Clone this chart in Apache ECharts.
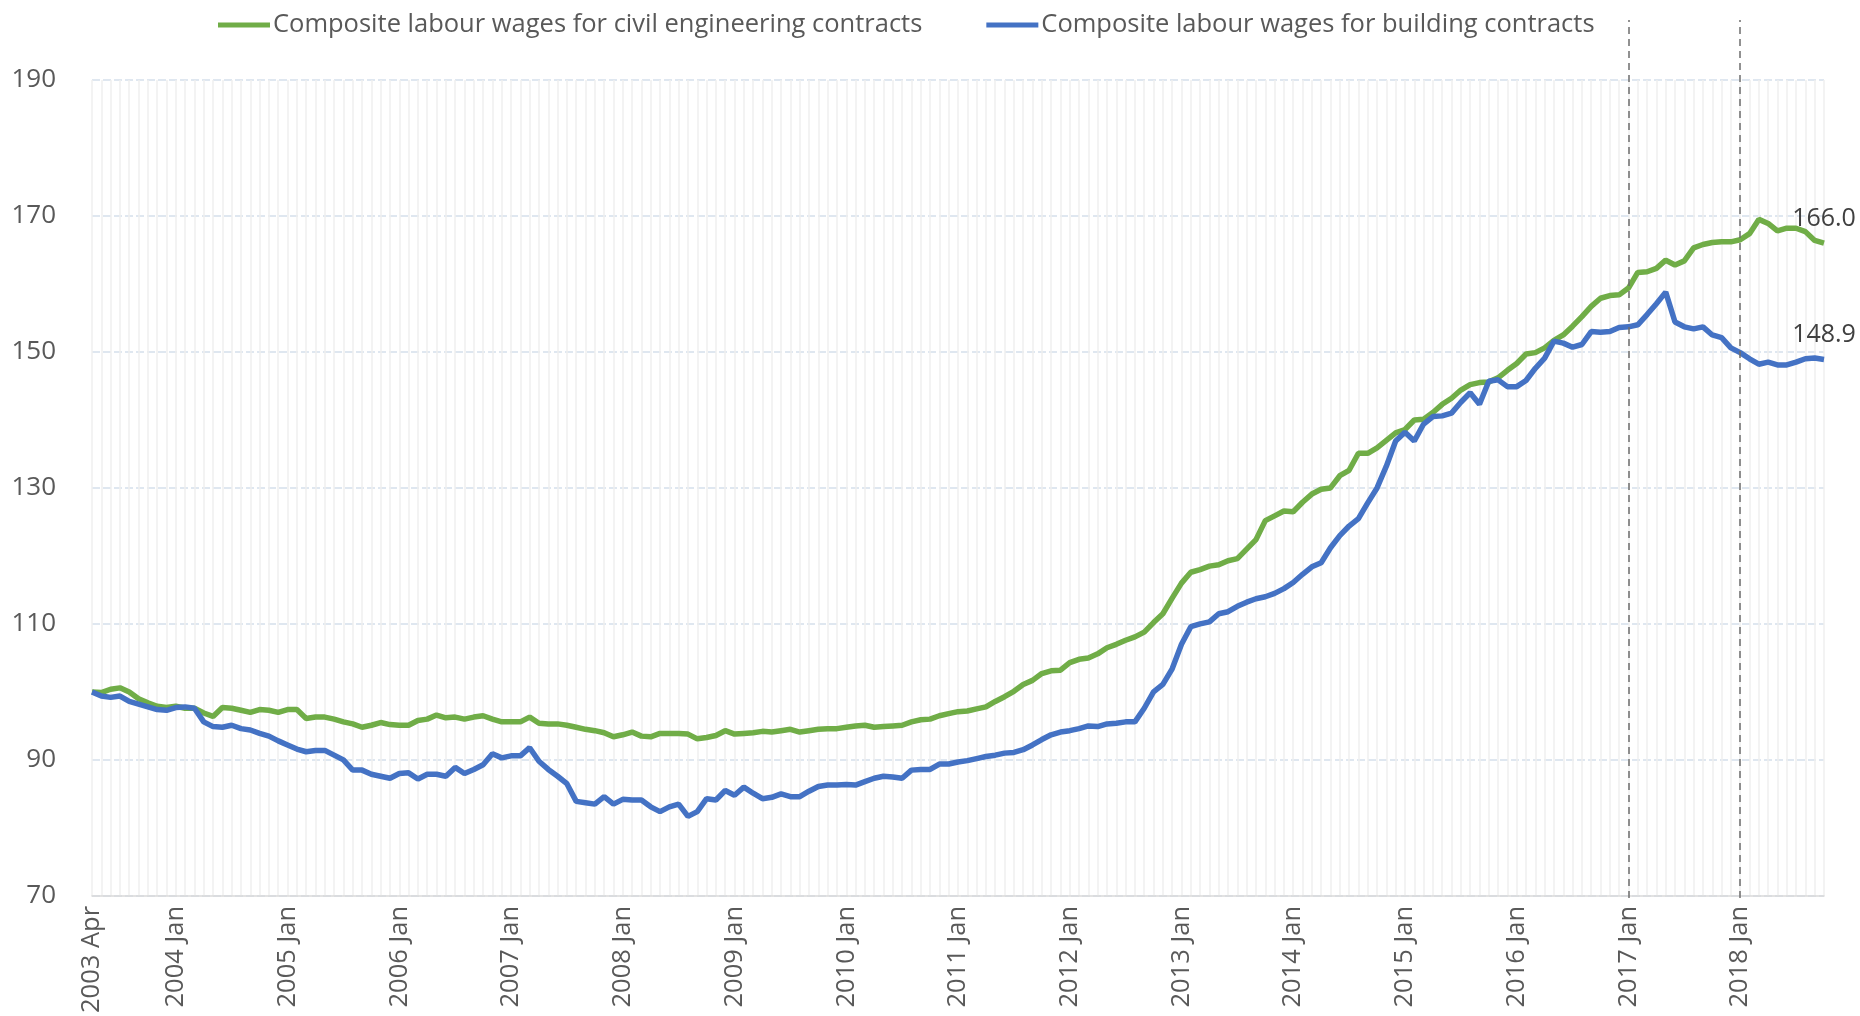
<!DOCTYPE html>
<html>
<head>
<meta charset="utf-8">
<title>Composite labour wages</title>
<script src="https://cdn.jsdelivr.net/npm/echarts@6/dist/echarts.min.js"></script>
<style>
  html, body { margin: 0; padding: 0; background: #fff; }
  #chart { width: 1860px; height: 1016px; }
</style>
</head>
<body>
<div id="chart"></div>
<script>
// index, 2003 Apr = 100, monthly to 2018 Oct
const civil = [
  100.0, 99.9, 100.4, 100.6, 100.0, 99.0, 98.4, 97.9, 97.7, 97.9, 97.6, 97.6,
  96.9, 96.4, 97.7, 97.6, 97.3, 97.0, 97.4, 97.3, 97.0, 97.4, 97.4, 96.1,
  96.3, 96.3, 96.0, 95.6, 95.3, 94.8, 95.1, 95.5, 95.2, 95.1, 95.1, 95.8,
  96.0, 96.6, 96.2, 96.3, 96.0, 96.3, 96.5, 96.0, 95.6, 95.6, 95.6, 96.3,
  95.4, 95.3, 95.3, 95.1, 94.8, 94.5, 94.3, 94.0, 93.4, 93.7, 94.1, 93.5,
  93.4, 93.9, 93.9, 93.9, 93.8, 93.1, 93.3, 93.6, 94.3, 93.8, 93.9, 94.0,
  94.2, 94.1, 94.3, 94.5, 94.1, 94.3, 94.5, 94.6, 94.6, 94.8, 95.0, 95.1,
  94.8, 94.9, 95.0, 95.1, 95.6, 95.9, 96.0, 96.5, 96.8, 97.1, 97.2, 97.5,
  97.8, 98.6, 99.3, 100.1, 101.1, 101.7, 102.7, 103.1, 103.2, 104.3, 104.8, 105.0,
  105.6, 106.5, 107.0, 107.6, 108.1, 108.8, 110.2, 111.5, 113.8, 116.0, 117.6, 118.0,
  118.5, 118.7, 119.3, 119.6, 121.0, 122.4, 125.2, 125.9, 126.6, 126.5, 127.9, 129.1,
  129.8, 130.0, 131.8, 132.6, 135.1, 135.1, 135.9, 137.0, 138.1, 138.6, 140.0, 140.1,
  141.1, 142.3, 143.2, 144.4, 145.2, 145.5, 145.6, 146.2, 147.3, 148.3, 149.7, 149.9,
  150.6, 151.7, 152.5, 153.8, 155.2, 156.7, 157.9, 158.3, 158.4, 159.4, 161.7, 161.8,
  162.3, 163.5, 162.8, 163.4, 165.3, 165.8, 166.1, 166.2, 166.2, 166.5, 167.4, 169.5,
  168.9, 167.8, 168.2, 168.2, 167.7, 166.4, 166.0
];
const building = [
  100.0, 99.4, 99.2, 99.4, 98.6, 98.2, 97.8, 97.4, 97.3, 97.7, 97.8, 97.6,
  95.6, 94.9, 94.8, 95.1, 94.6, 94.4, 93.9, 93.5, 92.8, 92.2, 91.6, 91.2,
  91.4, 91.4, 90.7, 90.0, 88.5, 88.5, 87.9, 87.6, 87.3, 88.0, 88.1, 87.2,
  87.9, 87.9, 87.6, 88.9, 88.0, 88.6, 89.3, 90.9, 90.3, 90.6, 90.6, 91.8,
  89.8, 88.6, 87.6, 86.5, 83.9, 83.7, 83.5, 84.6, 83.5, 84.2, 84.1, 84.1,
  83.1, 82.4, 83.1, 83.5, 81.7, 82.4, 84.3, 84.1, 85.5, 84.8, 86.0, 85.1,
  84.3, 84.5, 85.0, 84.6, 84.6, 85.4, 86.1, 86.3, 86.3, 86.4, 86.3, 86.8,
  87.3, 87.6, 87.5, 87.3, 88.5, 88.6, 88.6, 89.4, 89.4, 89.7, 89.9, 90.2,
  90.5, 90.7, 91.0, 91.1, 91.5, 92.2, 93.0, 93.7, 94.1, 94.3, 94.6, 95.0,
  94.9, 95.3, 95.4, 95.6, 95.6, 97.6, 100.0, 101.1, 103.4, 107.0, 109.6, 110.0,
  110.3, 111.5, 111.8, 112.6, 113.2, 113.7, 114.0, 114.5, 115.2, 116.1, 117.3, 118.4,
  119.0, 121.2, 123.0, 124.4, 125.5, 127.8, 130.0, 133.2, 136.9, 138.2, 136.9, 139.4,
  140.5, 140.6, 141.0, 142.6, 144.0, 142.3, 145.7, 145.9, 144.9, 144.9, 145.8, 147.6,
  149.1, 151.6, 151.3, 150.7, 151.1, 153.0, 152.9, 153.0, 153.6, 153.7, 154.0, 155.5,
  157.1, 158.8, 154.4, 153.7, 153.4, 153.7, 152.5, 152.1, 150.6, 149.9, 149.0, 148.2,
  148.5, 148.1, 148.1, 148.5, 149.0, 149.1, 148.9
];

const seriesNames = [
  'Composite labour wages for civil engineering contracts',
  'Composite labour wages for building contracts'
];
const markedMonths = ['2017 Jan', '2018 Jan'];
const monthNames = ['Jan', 'Feb', 'Mar', 'Apr', 'May', 'Jun', 'Jul', 'Aug', 'Sep', 'Oct', 'Nov', 'Dec'];

// category labels: 2003 Apr ... one per month
const months = [];
for (let i = 0; i < civil.length; i++) {
  const m = 3 + i;
  months.push((2003 + Math.floor(m / 12)) + ' ' + monthNames[m % 12]);
}

const FONT = 'Open Sans';
const last = civil.length - 1;

const gridPos = { left: 92, right: 36, bottom: 118 };

function endPoint(arr) {
  return {
    symbol: 'circle',
    symbolSize: 0,
    label: {
      show: true,
      position: 'top',
      distance: 12,
      fontFamily: FONT,
      fontSize: 25,
      color: '#404040',
      formatter: p => p.value.toFixed(1)
    },
    data: [{ coord: [months[last], arr[last]], value: arr[last] }]
  };
}

const chart = echarts.init(document.getElementById('chart'));
chart.setOption({
  animation: false,
  backgroundColor: '#fff',
  textStyle: { fontFamily: FONT },
  legend: {
    data: seriesNames,
    left: 213,
    top: 5,
    icon: 'rect',
    itemWidth: 52,
    itemHeight: 5,
    itemGap: 64,
    textStyle: { fontFamily: FONT, fontSize: 25.5, color: '#595959', lineHeight: 30, padding: [0, 0, 0, -2] }
  },
  grid: [
    Object.assign({ top: 80 }, gridPos),
    Object.assign({ top: 20 }, gridPos)
  ],
  xAxis: [{
    type: 'category',
    data: months,
    boundaryGap: false,
    axisLine: { lineStyle: { color: '#D9D9D9', width: 1.5 } },
    axisTick: { show: false },
    splitLine: { show: true, interval: 0, lineStyle: { color: '#EFEFEF', width: 1.5 } },
    axisLabel: {
      rotate: 90,
      margin: 10,
      fontFamily: FONT,
      fontSize: 25.5,
      color: '#595959',
      hideOverlap: false,
      interval: (idx, val) => idx === 0 || val.endsWith('Jan')
    }
  }, {
    gridIndex: 1,
    type: 'category',
    data: months,
    boundaryGap: false,
    show: false
  }],
  yAxis: [{
    type: 'value',
    min: 70,
    max: 190,
    interval: 20,
    axisLine: { show: false },
    axisTick: { show: false },
    splitLine: { lineStyle: { color: '#D5E0EC', width: 1.5, type: [8, 3] } },
    axisLabel: { fontFamily: FONT, fontSize: 26, color: '#595959', margin: 36 }
  }, {
    gridIndex: 1,
    type: 'value',
    min: 0,
    max: 1,
    show: false
  }],
  series: [{
    name: seriesNames[0],
    type: 'line',
    data: civil,
    showSymbol: false,
    color: '#70AD47',
    lineStyle: { width: 5.5, color: '#70AD47' },
    markPoint: endPoint(civil),
    z: 3
  }, {
    name: seriesNames[1],
    type: 'line',
    data: building,
    showSymbol: false,
    color: '#4472C4',
    lineStyle: { width: 5.5, color: '#4472C4' },
    markPoint: endPoint(building),
    z: 3
  }, {
    name: 'marks',
    type: 'line',
    xAxisIndex: 1,
    yAxisIndex: 1,
    data: [],
    markLine: {
      silent: true,
      symbol: 'none',
      label: { show: false },
      lineStyle: { color: '#6E6E6E', width: 1.5, type: [7, 5] },
      data: markedMonths.map(m => ({ xAxis: m }))
    }
  }]
});
</script>
</body>
</html>
